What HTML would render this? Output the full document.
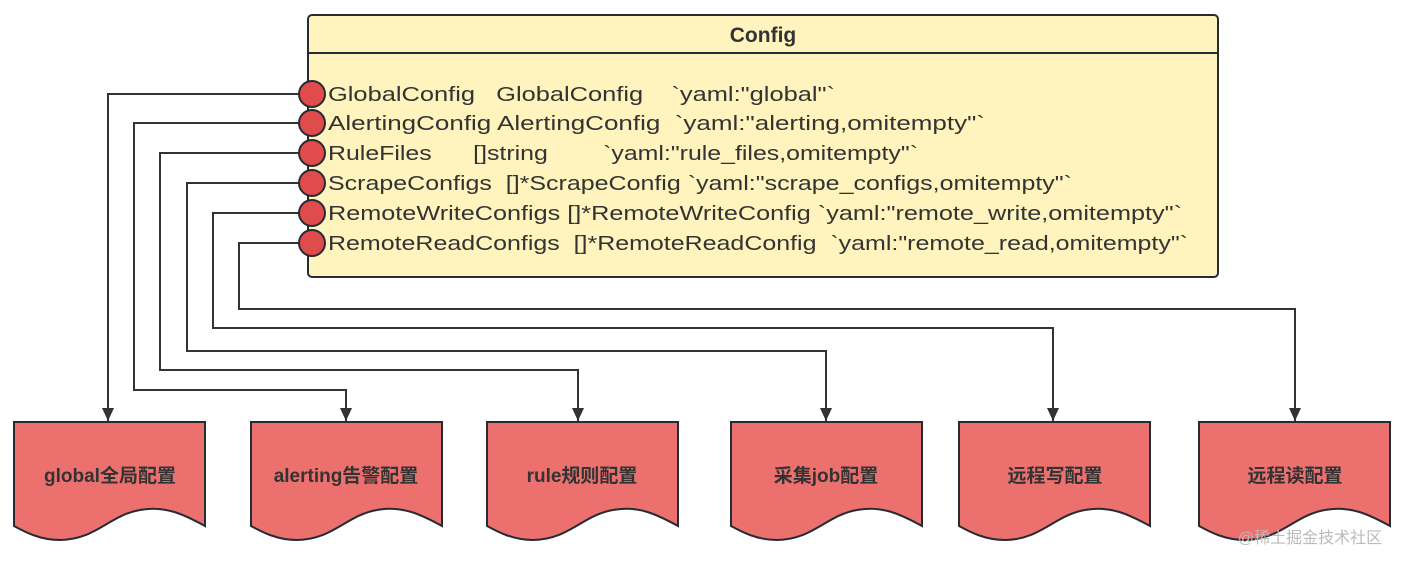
<!DOCTYPE html>
<html><head><meta charset="utf-8"><style>
html,body{margin:0;padding:0;background:#fff;}
svg{display:block;}
text{font-family:"Liberation Sans","Noto Sans CJK SC",sans-serif;fill:#333;}
</style></head><body>
<svg width="1407" height="564" viewBox="0 0 1407 564" xmlns="http://www.w3.org/2000/svg">
<defs><marker id="a" markerWidth="13" markerHeight="12" refX="13" refY="6" orient="auto" markerUnits="userSpaceOnUse"><path d="M0,0 L13,6 L0,12 Z" fill="#333"/></marker></defs>
<rect x="308" y="15" width="910" height="262" rx="4" fill="#fff4bd" stroke="#262c33" stroke-width="2"/>
<line x1="308" y1="53" x2="1218" y2="53" stroke="#262c33" stroke-width="2"/>
<text x="763" y="42" text-anchor="middle" font-size="21" font-weight="bold">Config</text>
<g fill="none" stroke="#333" stroke-width="2">
<path d="M299,94 H108 V421" marker-end="url(#a)"/>
<path d="M299,123 H134 V390 H346 V421" marker-end="url(#a)"/>
<path d="M299,153 H160 V370 H578 V421" marker-end="url(#a)"/>
<path d="M299,183 H187 V351 H826 V421" marker-end="url(#a)"/>
<path d="M299,213 H213 V328 H1053 V421" marker-end="url(#a)"/>
<path d="M299,243 H239 V309 H1295 V421" marker-end="url(#a)"/>
</g>
<g fill="#e04b4b" stroke="#262c33" stroke-width="2">
<circle cx="312" cy="94" r="13"/><circle cx="312" cy="123" r="13"/><circle cx="312" cy="153" r="13"/>
<circle cx="312" cy="183" r="13"/><circle cx="312" cy="213" r="13"/><circle cx="312" cy="243" r="13"/>
</g>
<g font-size="20">
<text x="328" y="101" textLength="507" lengthAdjust="spacingAndGlyphs" xml:space="preserve">GlobalConfig   GlobalConfig    `yaml:"global"`</text>
<text x="328" y="130" textLength="657" lengthAdjust="spacingAndGlyphs" xml:space="preserve">AlertingConfig AlertingConfig  `yaml:"alerting,omitempty"`</text>
<text x="328" y="160" textLength="590" lengthAdjust="spacingAndGlyphs" xml:space="preserve">RuleFiles      []string        `yaml:"rule_files,omitempty"`</text>
<text x="328" y="190" textLength="744" lengthAdjust="spacingAndGlyphs" xml:space="preserve">ScrapeConfigs  []*ScrapeConfig `yaml:"scrape_configs,omitempty"`</text>
<text x="328" y="220" textLength="854" lengthAdjust="spacingAndGlyphs" xml:space="preserve">RemoteWriteConfigs []*RemoteWriteConfig `yaml:"remote_write,omitempty"`</text>
<text x="328" y="250" textLength="860" lengthAdjust="spacingAndGlyphs" xml:space="preserve">RemoteReadConfigs  []*RemoteReadConfig  `yaml:"remote_read,omitempty"`</text>
</g>
<g fill="#ec706e" stroke="#262c33" stroke-width="2">
<path d="M14,422 H205 V526 C185,515 165,505 140,510 C110,515 95,540 60,540 C40,540 25,532 14,526 Z"/>
<path d="M251,422 H442 V526 C422,515 402,505 377,510 C347,515 332,540 297,540 C277,540 262,532 251,526 Z"/>
<path d="M487,422 H678 V526 C658,515 638,505 613,510 C583,515 568,540 533,540 C513,540 498,532 487,526 Z"/>
<path d="M731,422 H922 V526 C902,515 882,505 857,510 C827,515 812,540 777,540 C757,540 742,532 731,526 Z"/>
<path d="M959,422 H1150 V526 C1130,515 1110,505 1085,510 C1055,515 1040,540 1005,540 C985,540 970,532 959,526 Z"/>
<path d="M1199,422 H1390 V526 C1370,515 1350,505 1325,510 C1295,515 1280,540 1245,540 C1225,540 1210,532 1199,526 Z"/>
</g>
<g font-size="19" font-weight="bold" text-anchor="middle">
<text x="110" y="482">global全局配置</text>
<text x="346" y="482">alerting告警配置</text>
<text x="582" y="482">rule规则配置</text>
<text x="826" y="482">采集job配置</text>
<text x="1055" y="482">远程写配置</text>
<text x="1295" y="482">远程读配置</text>
</g>
<text x="1310" y="543" font-size="16" text-anchor="middle" style="fill:#bbb">@稀土掘金技术社区</text>
</svg>
</body></html>
